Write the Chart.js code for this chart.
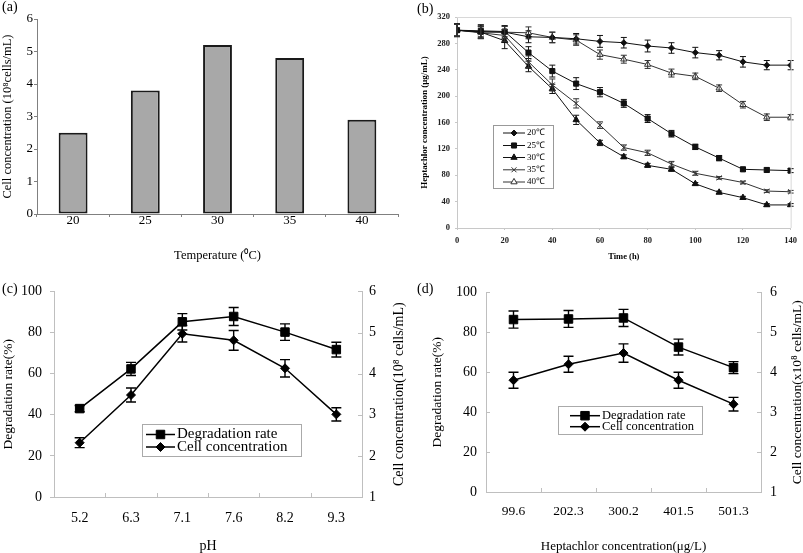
<!DOCTYPE html>
<html><head><meta charset="utf-8">
<script src="https://cdn.jsdelivr.net/npm/chart.js@4.4.0/dist/chart.umd.min.js"></script>
<style>
html,body{margin:0;padding:0;background:#fff;}
#wrap{position:relative;width:803px;height:553px;overflow:hidden;font-family:"Liberation Serif","Times New Roman",serif;}
canvas{position:absolute;}
.lab{position:absolute;font-size:14px;line-height:14px;color:#000;white-space:nowrap;}
</style></head><body>
<div id="wrap">
<canvas id="ca" width="400" height="275" style="left:0;top:0"></canvas>
<canvas id="cb" width="403" height="275" style="left:400px;top:0"></canvas>
<canvas id="cc" width="410" height="278" style="left:0;top:275px"></canvas>
<canvas id="cd" width="403" height="278" style="left:400px;top:275px"></canvas>
<div class="lab" style="left:2px;top:0px">(a)</div>
<div class="lab" style="left:417px;top:2px">(b)</div>
<div class="lab" style="left:2px;top:282px">(c)</div>
<div class="lab" style="left:417px;top:282px">(d)</div>
</div>
<script>
// ---------- data ----------
const tempCats = ['20', '25', '30', '35', '40'];
const tempCells = [2.5, 3.8, 5.2, 4.8, 2.9];

const timeH = [0, 10, 20, 30, 40, 50, 60, 70, 80, 90, 100, 110, 120, 130, 140];
const hep20 = [300, 298, 297, 290, 289, 287, 283, 281, 276, 273, 266, 262, 252, 247, 247];
const hep20Err = [10, 10, 10, 9, 8, 8, 9, 8, 9, 8, 8, 7, 8, 7, 7];
const hep25 = [300, 299, 298, 266, 238, 219, 206, 189, 166, 143, 123, 106, 89, 88, 87];
const hep25Err = [9, 9, 8, 9, 9, 9, 7, 6, 6, 5, 4, 4, 3, 3, 3];
const hep30 = [300, 297, 284, 245, 211, 164, 129, 108, 95, 89, 67, 54, 46, 35, 35];
const hep30Err = [9, 9, 12, 8, 7, 7, 4, 3, 3, 3, 2, 2, 2, 2, 2];
const hep35 = [300, 296, 292, 252, 217, 189, 156, 122, 114, 97, 83, 76, 69, 56, 55];
const hep35Err = [9, 9, 9, 9, 9, 7, 5, 4, 4, 4, 3, 2, 2, 2, 2];
const hep40 = [300, 297, 297, 296, 289, 285, 263, 256, 248, 235, 230, 212, 187, 168, 168];
const hep40Err = [9, 9, 9, 9, 8, 8, 7, 6, 6, 6, 5, 5, 5, 5, 4];
const tempLabels = ['20\u2103', '25\u2103', '30\u2103', '35\u2103', '40\u2103'];

const phCats = ['5.2', '6.3', '7.1', '7.6', '8.2', '9.3'];
const phDeg = [43, 62.3, 85.2, 87.8, 80.2, 71.7];
const phDegErr = [1.5, 3.2, 4, 4.4, 4, 3.6];
const phCell = [2.32, 3.48, 4.97, 4.81, 4.13, 3.01];
const phCellErr = [0.12, 0.17, 0.2, 0.24, 0.21, 0.16];

const concCats = ['99.6', '202.3', '300.2', '401.5', '501.3'];
const concDeg = [86.4, 86.7, 87.2, 72.6, 62.3];
const concDegErr = [4.3, 4.2, 4.3, 4, 3];
const concCell = [3.8, 4.2, 4.48, 3.8, 3.2];
const concCellErr = [0.2, 0.2, 0.23, 0.2, 0.17];

// ---------- plugins ----------
const SERIF = "'Liberation Serif','Times New Roman',serif";
Chart.defaults.font.family = SERIF;
Chart.defaults.color = '#000';
Chart.defaults.animation = false;

const errorBars = {
  id: 'errorBars',
  afterDatasetsDraw(chart, args, o) {
    const ctx = chart.ctx;
    chart.data.datasets.forEach((ds, di) => {
      if (!ds.errors) return;
      const meta = chart.getDatasetMeta(di);
      const ys = chart.scales[meta.yAxisID];
      ctx.save();
      ctx.strokeStyle = ds.borderColor;
      ctx.lineWidth = o.lineWidth || 1;
      const c = o.cap || 3;
      ctx.beginPath();
      meta.data.forEach((pt, i) => {
        const raw = ds.data[i];
        const v = (typeof raw === 'object') ? raw.y : raw;
        const e = ds.errors[i];
        const x = pt.x;
        const yt = ys.getPixelForValue(v + e), yb = ys.getPixelForValue(v - e);
        ctx.moveTo(x, yt); ctx.lineTo(x, yb);
        ctx.moveTo(x - c, yt); ctx.lineTo(x + c, yt);
        ctx.moveTo(x - c, yb); ctx.lineTo(x + c, yb);
      });
      ctx.stroke();
      ctx.restore();
    });
  }
};

const boxLegend = {
  id: 'boxLegend',
  afterDraw(chart, args, o) {
    if (!o || !o.box) return;
    const ctx = chart.ctx;
    const [bx, by, bw, bh] = o.box;
    ctx.save();
    ctx.fillStyle = '#fff';
    ctx.fillRect(bx, by, bw, bh);
    ctx.strokeStyle = o.borderColor || '#aaa';
    ctx.lineWidth = 1;
    ctx.strokeRect(bx + 0.5, by + 0.5, bw, bh);
    chart.data.datasets.forEach((ds, i) => {
      const y = o.rowY[i];
      ctx.strokeStyle = ds.borderColor;
      ctx.lineWidth = ds.borderWidth;
      ctx.beginPath(); ctx.moveTo(o.lineX[0], y); ctx.lineTo(o.lineX[1], y); ctx.stroke();
      ctx.fillStyle = ds.pointBackgroundColor;
      ctx.strokeStyle = ds.pointBorderColor;
      ctx.lineWidth = ds.pointBorderWidth;
      Chart.helpers.drawPoint(ctx, {pointStyle: ds.pointStyle, radius: ds.pointRadius, borderWidth: ds.pointBorderWidth, rotation: 0}, (o.lineX[0] + o.lineX[1]) / 2, y);
      ctx.fillStyle = '#000';
      ctx.font = o.font;
      ctx.textAlign = 'left';
      ctx.textBaseline = 'middle';
      ctx.fillText(ds.label, o.textX, y);
    });
    ctx.restore();
  }
};

const inTicks = {
  id: 'inTicks',
  afterDraw(chart, args, o) {
    if (!o || !o.items) return;
    const ctx = chart.ctx, a = chart.chartArea;
    ctx.save();
    ctx.strokeStyle = o.color; ctx.lineWidth = 1;
    ctx.beginPath();
    o.items.forEach(it => {
      const s = chart.scales[it.axis];
      if (it.mode === 'between') {
        for (let i = 1; i < s.ticks.length; i++) {
          const x = Math.round((s.getPixelForTick(i - 1) + s.getPixelForTick(i)) / 2) + 0.5;
          ctx.moveTo(x, a.bottom); ctx.lineTo(x, a.bottom - o.len);
        }
      } else {
        const x0 = it.side === 'right' ? a.right : a.left;
        const dir = it.side === 'right' ? -1 : 1;
        s.ticks.forEach((t, i) => {
          const y = Math.round(s.getPixelForTick(i)) + 0.5;
          ctx.moveTo(x0, y); ctx.lineTo(x0 + dir * o.len, y);
        });
      }
    });
    ctx.stroke();
    ctx.restore();
  }
};

const sideTitle = {
  id: 'sideTitle',
  afterDraw(chart, args, o) {
    if (!o || !o.text) return;
    const ctx = chart.ctx, a = chart.chartArea;
    ctx.save();
    ctx.translate(o.x, (a.top + a.bottom) / 2);
    ctx.rotate(-Math.PI / 2);
    ctx.font = o.font; ctx.fillStyle = '#000';
    ctx.textAlign = 'center'; ctx.textBaseline = 'middle';
    ctx.fillText(o.text, 0, 0);
    ctx.restore();
  }
};

const frame = {
  id: 'frame',
  afterDraw(chart, args, o) {
    if (!o || !o.color) return;
    const ctx = chart.ctx, a = chart.chartArea;
    ctx.save();
    ctx.strokeStyle = o.color; ctx.lineWidth = 1;
    ctx.beginPath();
    ctx.moveTo(a.left, a.top + 0.5); ctx.lineTo(a.right + 0.5, a.top + 0.5); ctx.lineTo(a.right + 0.5, a.bottom);
    ctx.stroke();
    ctx.restore();
  }
};
Chart.register(errorBars, boxLegend, inTicks, sideTitle, frame);

const noLegend = {legend: {display: false}, tooltip: {enabled: false}};

// ---------- (a) ----------
new Chart(document.getElementById('ca'), {
  type: 'bar',
  data: {labels: tempCats, datasets: [{data: tempCells, backgroundColor: '#a8a8a8', borderColor: '#1a1a1a', borderWidth: 2, borderSkipped: false, barPercentage: 0.4, categoryPercentage: 1}]},
  options: {
    responsive: false, animation: false,
    layout: {padding: {left: 0, right: 2, top: 19, bottom: 0}},
    plugins: noLegend,
    scales: {
      x: {
        grid: {display: true, drawOnChartArea: false, drawTicks: true, tickLength: 3, color: '#808080', offset: true},
        border: {color: '#808080', width: 1},
        ticks: {font: {size: 13, lineHeight: 1}, padding: -2.5, color: '#000'},
        title: {display: true, text: 'Temperature (\u2070C)', font: {size: 12.5}, padding: {top: 0, bottom: 11.5}},
        afterFit(s) { s.height = 61; }
      },
      y: {
        min: 0, max: 6,
        ticks: {stepSize: 1, font: {size: 13}, padding: 1, color: '#000'},
        grid: {drawOnChartArea: false, tickLength: 3, color: '#808080'},
        border: {color: '#808080', width: 1},
        title: {display: true, text: 'Cell concentration (10\u2078cells/mL)', font: {size: 12.5}, padding: {top: 0, bottom: 0}},
        afterFit(s) { s.width = 37; }
      }
    }
  }
});

// ---------- (b) ----------
function ser(label, vals, errs, style, r, fill, line) {
  return {label: label, data: timeH.map((t, i) => ({x: t, y: vals[i]})), errors: errs,
    borderColor: line, borderWidth: 1, pointStyle: style, pointRadius: r,
    pointBackgroundColor: fill, pointBorderColor: line, pointBorderWidth: 1, tension: 0};
}
const fontB = {size: 8.5, weight: 'bold'};
new Chart(document.getElementById('cb'), {
  type: 'line',
  data: {datasets: [
    ser(tempLabels[0], hep20, hep20Err, 'rectRot', 3, '#111', '#111'),
    ser(tempLabels[1], hep25, hep25Err, 'rect', 3.6, '#111', '#111'),
    ser(tempLabels[2], hep30, hep30Err, 'triangle', 3.6, '#111', '#111'),
    ser(tempLabels[3], hep35, hep35Err, 'crossRot', 3.5, '#333', '#333'),
    ser(tempLabels[4], hep40, hep40Err, 'triangle', 3.6, '#fff', '#333')
  ]},
  options: {
    responsive: false, animation: false,
    layout: {padding: {left: 0, right: 8, top: 17, bottom: 0}},
    plugins: {legend: {display: false}, tooltip: {enabled: false},
      errorBars: {lineWidth: 1, cap: 3},
      frame: {color: '#d8d8d8'},
      boxLegend: {box: [93, 125, 60, 63], rowY: [133, 145.5, 157.5, 169.8, 182], lineX: [103, 125], textX: 127, font: "9px " + SERIF, borderColor: '#999'}
    },
    scales: {
      x: {
        type: 'linear', min: 0, max: 140,
        ticks: {stepSize: 20, font: fontB, padding: 6, color: '#222'},
        grid: {drawOnChartArea: false, tickLength: 2, color: '#c8c8c8'},
        border: {color: '#c8c8c8'},
        title: {display: true, text: 'Time (h)', font: fontB, padding: {top: 0, bottom: 13}},
        afterFit(s) { s.height = 47; }
      },
      y: {
        min: 0, max: 320,
        ticks: {stepSize: 40, font: fontB, padding: 5, color: '#222'},
        grid: {drawOnChartArea: false, tickLength: 2, color: '#c8c8c8'},
        border: {color: '#c8c8c8'},
        title: {display: true, text: 'Heptachlor concentration (\u03bcg/mL)', font: {size: 9, weight: 'bold'}, padding: {top: 19.5, bottom: 0}},
        afterFit(s) { s.width = 57; }
      }
    }
  }
});

// ---------- (c) & (d) ----------
function pair(degVals, degErr, cellVals, cellErr, sq, dm, lw) {
  return [
    {label: 'Degradation rate', data: degVals, errors: degErr, yAxisID: 'y', borderColor: '#000', borderWidth: lw,
      pointStyle: 'rect', pointRadius: sq, pointBackgroundColor: '#000', pointBorderColor: '#000', pointBorderWidth: 1, tension: 0},
    {label: 'Cell concentration', data: cellVals, errors: cellErr, yAxisID: 'y1', borderColor: '#000', borderWidth: lw,
      pointStyle: 'rectRot', pointRadius: dm, pointBackgroundColor: '#000', pointBorderColor: '#000', pointBorderWidth: 1, tension: 0}
  ];
}
const AX = '#bfbfbf';

new Chart(document.getElementById('cc'), {
  type: 'line',
  data: {labels: phCats, datasets: pair(phDeg, phDegErr, phCell, phCellErr, 6, 4.5, 1.5)},
  options: {
    responsive: false, animation: false,
    layout: {padding: {left: 0, right: 0, top: 14, bottom: 0}},
    plugins: {legend: {display: false}, tooltip: {enabled: false},
      errorBars: {lineWidth: 1.4, cap: 5},
      inTicks: {color: AX, len: 4, items: [{axis: 'x', mode: 'between'}, {axis: 'y1', side: 'right'}]},
      sideTitle: {text: 'Cell concentration(10\u2078 cells/mL)', x: 399, font: "14px " + SERIF},
      boxLegend: {box: [142, 149, 159, 32], rowY: [159.5, 172], lineX: [146, 175], textX: 177, font: "15px " + SERIF, borderColor: '#aaa'}
    },
    scales: {
      x: {
        offset: true,
        grid: {display: true, drawOnChartArea: false, drawTicks: false, offset: true},
        border: {color: AX},
        ticks: {font: {size: 14}, padding: 13, color: '#000'},
        title: {display: true, text: 'pH', font: {size: 14, lineHeight: 1}, padding: {top: 0, bottom: 0}},
        afterFit(s) { s.height = 56; }
      },
      y: {
        min: 0, max: 100,
        ticks: {stepSize: 20, font: {size: 14}, padding: 8, color: '#000'},
        grid: {drawOnChartArea: false, tickLength: 4, color: AX},
        border: {color: AX},
        title: {display: true, text: 'Degradation rate(%)', font: {size: 13.5}, padding: {top: 0, bottom: 0}},
        afterFit(s) { s.width = 54; }
      },
      y1: {
        position: 'right', min: 1, max: 6,
        ticks: {stepSize: 1, font: {size: 14}, padding: 7, color: '#000'},
        grid: {drawOnChartArea: false, drawTicks: false},
        border: {color: AX},
        afterFit(s) { s.width = 48; }
      }
    }
  }
});

new Chart(document.getElementById('cd'), {
  type: 'line',
  data: {labels: concCats, datasets: pair(concDeg, concDegErr, concCell, concCellErr, 6, 4.5, 1.5)},
  options: {
    responsive: false, animation: false,
    layout: {padding: {left: 0, right: 0, top: 14, bottom: 0}},
    plugins: {legend: {display: false}, tooltip: {enabled: false},
      errorBars: {lineWidth: 1.4, cap: 5},
      inTicks: {color: AX, len: 4, items: [{axis: 'x', mode: 'between'}, {axis: 'y', side: 'left'}, {axis: 'y1', side: 'right'}]},
      sideTitle: {text: 'Cell concentration(x10\u2078 cells/mL)', x: 397, font: "13.5px " + SERIF},
      boxLegend: {box: [158, 131, 144, 28], rowY: [140.7, 151.7], lineX: [170, 200], textX: 202, font: "12.5px " + SERIF, borderColor: '#aaa'}
    },
    scales: {
      x: {
        offset: true,
        grid: {display: true, drawOnChartArea: false, drawTicks: false, offset: true},
        border: {color: AX},
        ticks: {font: {size: 13.5}, padding: 11, color: '#000'},
        title: {display: true, text: 'Heptachlor concentration(\u03bcg/L)', font: {size: 13, lineHeight: 1}, padding: {top: 0, bottom: 0}},
        afterFit(s) { s.height = 61; }
      },
      y: {
        min: 0, max: 100,
        ticks: {stepSize: 20, font: {size: 14}, padding: 9, color: '#000'},
        grid: {drawOnChartArea: false, drawTicks: false},
        border: {color: AX},
        title: {display: true, text: 'Degradation rate(%)', font: {size: 13.5}, padding: {top: 29, bottom: 0}},
        afterFit(s) { s.width = 86; }
      },
      y1: {
        position: 'right', min: 1, max: 6,
        ticks: {stepSize: 1, font: {size: 14}, padding: 9, color: '#000'},
        grid: {drawOnChartArea: false, drawTicks: false},
        border: {color: AX},
        afterFit(s) { s.width = 42; }
      }
    }
  }
});
</script>
</body></html>
